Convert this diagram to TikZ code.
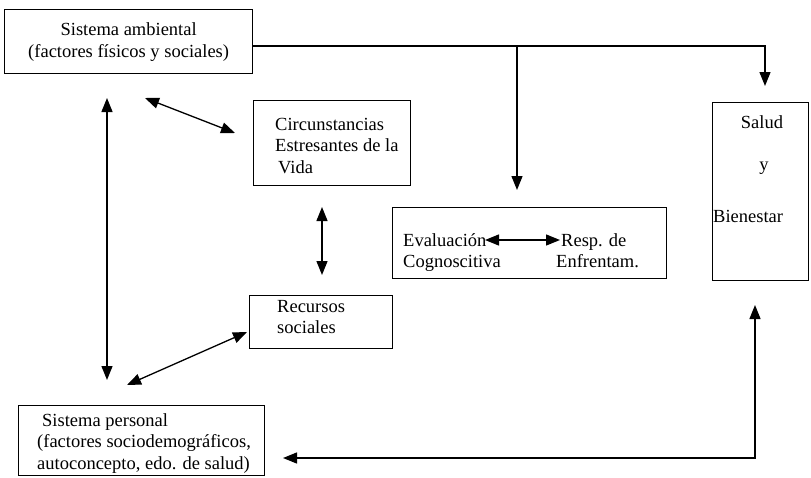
\documentclass[tikz,border=0pt]{standalone}
\usepackage{fontspec}
\setmainfont{Liberation Serif}
\usetikzlibrary{arrows.meta}

\begin{document}
\begin{tikzpicture}[x=1pt,y=-1pt,
  box/.style={draw, line width=1.3pt, inner sep=0pt, anchor=north west},
  txt/.style={font=\fontsize{18.5}{21.5}\selectfont, inner sep=0pt, align=left, anchor=north west},
  link/.style={line width=1.3pt},
  tip/.style={-{Triangle[length=14pt,width=11pt]}},
  both/.style={{Triangle[length=14pt,width=11pt]}-{Triangle[length=14pt,width=11pt]}}]

\useasboundingbox (0,0) rectangle (811,477);

% boxes
\node[box, minimum width=248pt, minimum height=64pt, align=center,
      font=\fontsize{18.5}{22}\selectfont] (amb) at (4,9)
      {Sistema ambiental\\(factores físicos y sociales)};
\node[box, minimum width=157pt, minimum height=85pt] (circ) at (253,100) {};
\node[box, minimum width=274pt, minimum height=71pt] (eval) at (392,207) {};
\node[box, minimum width=96pt, minimum height=178pt] (salud) at (712,102) {};
\node[box, minimum width=143pt, minimum height=53pt] (rec) at (249,295) {};
\node[box, minimum width=246pt, minimum height=70pt] (pers) at (18,405) {};

% texts
\node[txt] (circT) at (275,118) {Circunstancias\\Estresantes de la\\\hspace*{3pt}Vida};
\node[txt] (evalT) at (403,233) {Evaluación\\Cognoscitiva};
\node[txt] (respT) at (556,233) {\hspace*{5pt}Resp. de\\Enfrentam.};
\node[txt, anchor=center] (saludT) at (762,122) {Salud};
\node[txt, anchor=center] (yT) at (764,168) {y};
\node[txt, anchor=west] (bienT) at (713,216) {Bienestar};
\node[txt] (recT) at (277,300) {Recursos\\sociales};
\node[txt] (persT) at (37,413)
  {\hspace*{5pt}Sistema personal\\(factores sociodemográficos,\\autoconcepto, edo. de salud)};

% connector end points
\coordinate (j1) at (517,46);
\coordinate (sTop) at (765,86);
\coordinate (eTop) at (517,190);
\coordinate (d1) at (145,98);
\coordinate (d2) at (235,133);
\coordinate (v1) at (107,98);
\coordinate (v2) at (107,380);
\coordinate (c1) at (322,207);
\coordinate (c2) at (322,275);
\coordinate (r1) at (247,332);
\coordinate (r2) at (127,385);
\coordinate (e1) at (485,240);
\coordinate (e2) at (560,240);
\coordinate (b1) at (283,458);
\coordinate (b2) at (755,458);
\coordinate (b3) at (755,305);

% connectors
\draw[link,tip] (amb.east |- j1) -- (j1 -| sTop) -- (sTop);
\draw[link,tip] (j1) -- (eTop);
\draw[link,both] (d1) -- (d2);
\draw[link,both] (v1) -- (v2);
\draw[link,both] (c1) -- (c2);
\draw[link,both] (r1) -- (r2);
\draw[link,both] (e1) -- (e2);
\draw[link,both] (b1) -- (b2) -- (b3);
\end{tikzpicture}
\end{document}
